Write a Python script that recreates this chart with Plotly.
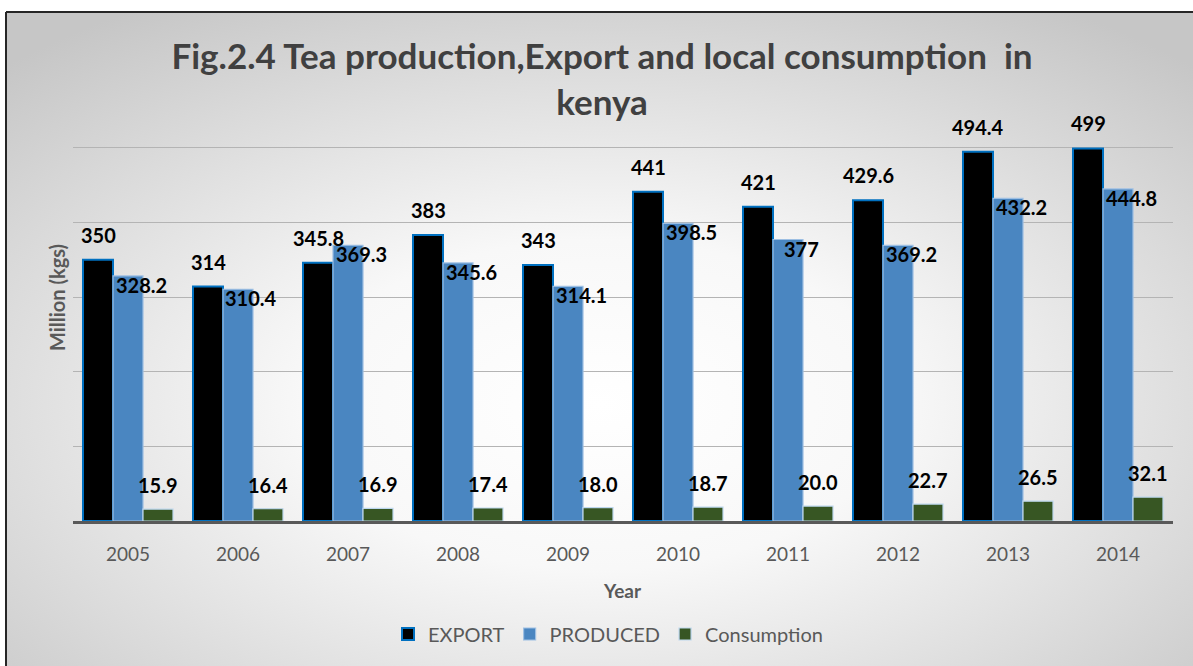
import base64
import plotly.graph_objects as go

# ---- data ----
years = ["2005", "2006", "2007", "2008", "2009", "2010", "2011", "2012", "2013", "2014"]
export = [350, 314, 345.8, 383, 343, 441, 421, 429.6, 494.4, 499]
produced = [328.2, 310.4, 369.3, 345.6, 314.1, 398.5, 377, 369.2, 432.2, 444.8]
consumption = [15.9, 16.4, 16.9, 17.4, 18.0, 18.7, 20.0, 22.7, 26.5, 32.1]

W, H = 1193, 666
ML, MR, MT, MB = 73, 20, 73, 145
PW, PH = W - ML - MR, H - MT - MB


def px_x(p):
    return (p - ML) / PW


def px_y(p):
    return (H - MB - p) / PH


FONT = "Lato"
GRAY = "#595959"

fig = go.Figure()
fig.add_trace(go.Bar(
    x=years, y=export, name="EXPORT",
    marker=dict(color="#000000", line=dict(color="#0070c0", width=2)),
))
fig.add_trace(go.Bar(
    x=years, y=produced, name="PRODUCED",
    marker=dict(color="#4a86c1", line=dict(color="#9dbfe3", width=1.2)),
))
fig.add_trace(go.Bar(
    x=years, y=consumption, name="Consumption",
    marker=dict(color="#375623", line=dict(color="#bdd7ee", width=1.2)),
))

ann = []
lab_font = dict(family=FONT, size=20, color="#000000", weight="bold")
for i, yr in enumerate(years):
    # on a category axis, annotation x is the category index
    ann.append(dict(x=i, y=export[i], xref="x", yref="y", text=f"{export[i]:g}",
                    showarrow=False, xshift=-30, yshift=25, yanchor="middle",
                    font=lab_font))
    ann.append(dict(x=i, y=produced[i], xref="x", yref="y", text=f"{produced[i]:g}",
                    showarrow=False, xshift=13, yshift=-9, yanchor="middle",
                    font=lab_font))
    ann.append(dict(x=i, y=consumption[i], xref="x", yref="y", text=f"{consumption[i]:.1f}",
                    showarrow=False, xshift=30, yshift=24, yanchor="middle",
                    font=lab_font))

ann.append(dict(x=px_x(57), y=px_y(298), xref="paper", yref="paper", text="Million (kgs)",
                textangle=-90, showarrow=False, xanchor="center", yanchor="middle",
                font=dict(family=FONT, size=20, color=GRAY, weight="bold")))
ann.append(dict(x=px_x(622), y=px_y(590), xref="paper", yref="paper", text="Year",
                showarrow=False, xanchor="center", yanchor="middle",
                font=dict(family=FONT, size=19, color=GRAY, weight="bold")))

# background gradient (chart area) as an SVG image
bw, bh = W - 6, H - 12
svg = (f'<svg xmlns="http://www.w3.org/2000/svg" width="{bw}" height="{bh}" '
       f'viewBox="0 0 {bw} {bh}" preserveAspectRatio="none">'
       '<defs><radialGradient id="g" cx="0.5" cy="0.6" r="0.72">'
       '<stop offset="0" stop-color="#ffffff"/>'
       '<stop offset="0.35" stop-color="#f8f8f8"/>'
       '<stop offset="1" stop-color="#c6c6c6"/>'
       '</radialGradient></defs>'
       f'<rect x="0" y="0" width="{bw}" height="{bh}" fill="url(#g)"/></svg>')
src = "data:image/svg+xml;base64," + base64.b64encode(svg.encode()).decode()

shapes = [
    dict(type="line", xref="paper", yref="paper", x0=px_x(6), x1=px_x(6),
         y0=px_y(12), y1=px_y(H + 5), line=dict(color="#262626", width=2), layer="above"),
    dict(type="line", xref="paper", yref="paper", x0=px_x(6), x1=px_x(W + 5),
         y0=px_y(12), y1=px_y(12), line=dict(color="#262626", width=2), layer="above"),
]

fig.update_layout(
    width=W, height=H,
    margin=dict(l=ML, r=MR, t=MT, b=MB, autoexpand=False),
    paper_bgcolor="#ffffff",
    plot_bgcolor="rgba(0,0,0,0)",
    barmode="group", bargap=0.1818, bargroupgap=0,
    font=dict(family=FONT, color=GRAY),
    title=dict(text="Fig.2.4 Tea production,Export and local consumption \u00a0in<br>kenya",
               x=602 / W, xref="container", xanchor="center",
               y=1 - 69 / H, yref="container", yanchor="middle",
               font=dict(family=FONT, size=35, color="#404040", weight="bold")),
    xaxis=dict(type="category", range=[-0.5, len(years) - 0.5], showline=True,
               linecolor=GRAY, linewidth=2.5, ticks="",
               tickfont=dict(family=FONT, size=19, color=GRAY),
               ticklabelstandoff=14, showgrid=False, automargin=False),
    yaxis=dict(range=[0, 600], dtick=100, showticklabels=False, showgrid=True,
               gridcolor="#b4b4b4", gridwidth=1, zeroline=False, automargin=False),
    legend=dict(orientation="h", xref="container", yref="container",
                x=608 / W, xanchor="center", y=1 - 634 / H, yanchor="middle",
                font=dict(family=FONT, size=20, color=GRAY), bgcolor="rgba(0,0,0,0)",
                itemwidth=30),
    annotations=ann,
    shapes=shapes,
    images=[dict(source=src, xref="paper", yref="paper", x=px_x(6), y=px_y(12),
                 sizex=bw / PW, sizey=bh / PH, xanchor="left", yanchor="top",
                 sizing="stretch", layer="below")],
)

fig.write_html("out.html")
